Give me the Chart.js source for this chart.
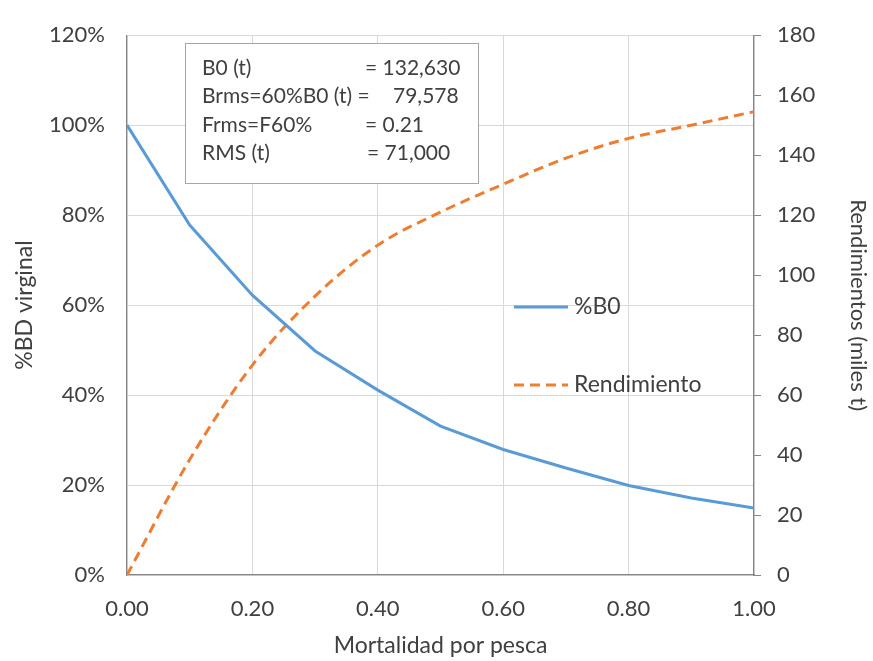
<!DOCTYPE html>
<html>
<head>
<meta charset="utf-8">
<script src="https://cdn.jsdelivr.net/npm/chart.js@4"></script>
<style>
  html, body { margin: 0; padding: 0; background: #fff; }
  #wrap { width: 873px; height: 661px; }
</style>
</head>
<body>
<div id="wrap"><canvas id="c" width="873" height="661"></canvas></div>
<script>
// fishing mortality (x axis)
const fishingMortality = [0, 0.1, 0.2, 0.3, 0.4, 0.5, 0.6, 0.7, 0.8, 0.9, 1.0];
// %B0 - left axis (percent)
const pctB0 = [100, 77.8, 62.2, 49.8, 41.1, 33.1, 27.9, 23.8, 19.9, 17.1, 14.9];
// Rendimiento - right axis (miles t)
const yieldK = [0, 38.5, 70, 93, 110, 121, 130.3, 139, 145.6, 150, 154.5];

// text of the info box
const boxLabels = ['B0 (t)', 'Brms=60%B0 (t) =', 'Frms=F60%', 'RMS (t)'];
const boxValues = ['= 132,630', '79,578', '= 0.21', '= 71,000'];

const FONT = 'Lato, "Open Sans", sans-serif';
const TXT = '#404040';
const BLUE = '#5B9BD5';
const ORANGE = '#ED7D31';

function toPoints(xs, ys) {
  return xs.map((x, i) => ({ x: x, y: ys[i] }));
}

// info box + inline legend
const overlayPlugin = {
  id: 'overlay',
  afterDatasetsDraw(chart) {
    const ctx = chart.ctx;
    ctx.save();

    // box
    ctx.fillStyle = '#fff';
    ctx.fillRect(185, 43, 293, 140);
    ctx.strokeStyle = '#a6a6a6';
    ctx.lineWidth = 1;
    ctx.strokeRect(185.5, 43.5, 293, 140);

    ctx.font = '21px ' + FONT;
    ctx.fillStyle = TXT;
    ctx.textBaseline = 'middle';
    ctx.textAlign = 'left';
    const rows = [68, 96, 125, 153];
    const valX = [365, 393, 365, 367];
    boxLabels.forEach((t, i) => {
      ctx.fillText(t, 202, rows[i]);
      ctx.fillText(boxValues[i], valX[i], rows[i]);
    });

    // legend
    ctx.font = '23px ' + FONT;
    const legendY = [307, 385];
    chart.data.datasets.forEach((ds, i) => {
      ctx.beginPath();
      ctx.strokeStyle = ds.borderColor;
      ctx.lineWidth = ds.borderWidth;
      ctx.setLineDash(ds.borderDash || []);
      ctx.moveTo(514, legendY[i]);
      ctx.lineTo(568, legendY[i]);
      ctx.stroke();
      ctx.setLineDash([]);
      ctx.fillStyle = TXT;
      ctx.fillText(ds.label, 574, legendY[i]);
    });

    ctx.restore();
  }
};

const chart = new Chart(document.getElementById('c'), {
  type: 'line',
  data: {
    datasets: [
      {
        label: '%B0',
        data: toPoints(fishingMortality, pctB0),
        borderColor: BLUE,
        backgroundColor: BLUE,
        borderWidth: 3,
        pointRadius: 0,
        tension: 0,
        yAxisID: 'y'
      },
      {
        label: 'Rendimiento',
        data: toPoints(fishingMortality, yieldK),
        borderColor: ORANGE,
        backgroundColor: ORANGE,
        borderWidth: 3,
        borderDash: [10, 6],
        pointRadius: 0,
        cubicInterpolationMode: 'monotone',
        yAxisID: 'y2'
      }
    ]
  },
  options: {
    responsive: false,
    animation: false,
    layout: { padding: { top: 25, left: 0, right: 0, bottom: 0 } },
    plugins: {
      legend: { display: false },
      tooltip: { enabled: false }
    },
    scales: {
      x: {
        type: 'linear',
        min: 0,
        max: 1,
        afterFit(s) { s.height = 86; },
        ticks: {
          stepSize: 0.2,
          padding: 21,
          color: TXT,
          font: { family: FONT, size: 22 },
          callback: v => v.toFixed(2)
        },
        grid: { color: '#d9d9d9', drawTicks: false },
        border: { color: '#868686', width: 1.2 },
        title: {
          display: true,
          text: 'Mortalidad por pesca',
          color: TXT,
          font: { family: FONT, size: 23 },
          padding: { top: 0, bottom: 2 }
        }
      },
      y: {
        position: 'left',
        min: 0,
        max: 120,
        afterFit(s) { s.width = 127; },
        ticks: {
          stepSize: 20,
          padding: 22,
          color: TXT,
          font: { family: FONT, size: 22 },
          callback: v => v + '%'
        },
        grid: { color: '#d9d9d9', drawTicks: false },
        border: { color: '#868686', width: 1.2 },
        title: {
          display: true,
          text: '%BD virginal',
          color: TXT,
          font: { family: FONT, size: 23 },
          padding: { top: 11, bottom: 0 }
        }
      },
      y2: {
        position: 'right',
        min: 0,
        max: 180,
        afterFit(s) { s.width = 119; },
        ticks: {
          stepSize: 20,
          padding: 16,
          color: TXT,
          font: { family: FONT, size: 22 }
        },
        grid: { drawOnChartArea: false, drawTicks: true, tickLength: 7, color: '#868686' },
        border: { color: '#868686', width: 1.2 },
        title: {
          display: true,
          text: 'Rendimientos (miles t)',
          color: TXT,
          font: { family: FONT, size: 22 },
          padding: { top: 2, bottom: 0 }
        }
      }
    }
  },
  plugins: [overlayPlugin]
});
</script>
</body>
</html>
